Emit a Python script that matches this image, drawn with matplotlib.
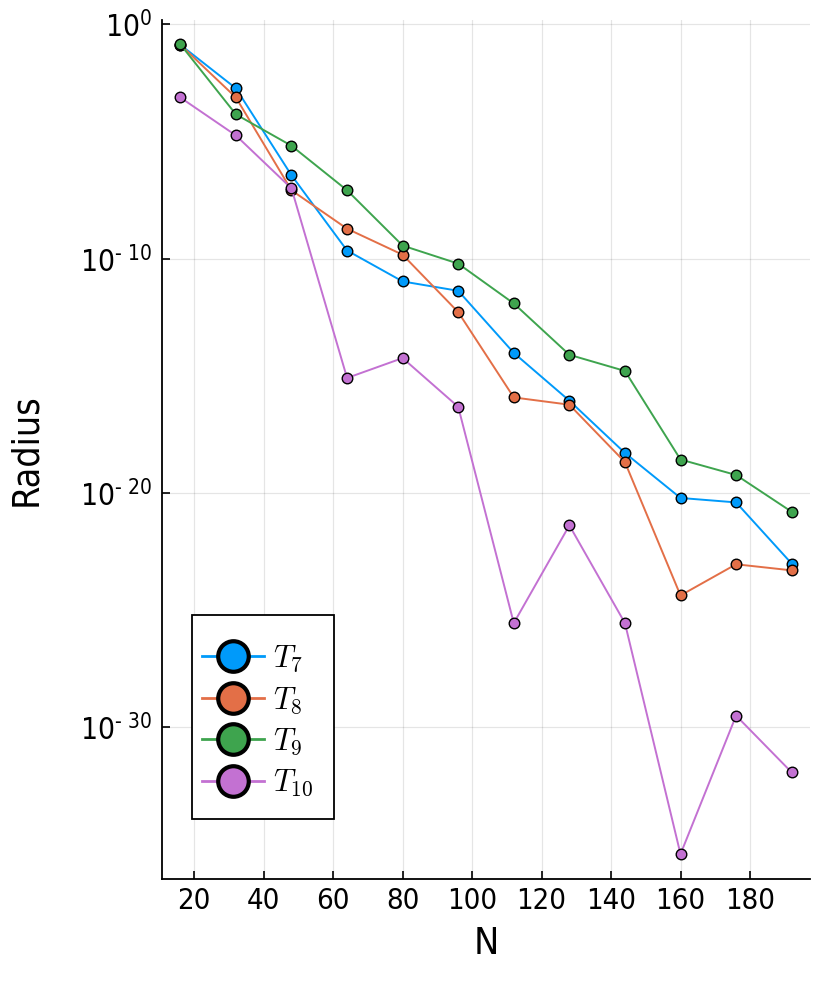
import numpy as np
import matplotlib
matplotlib.use("Agg")
import matplotlib.pyplot as plt
from matplotlib.lines import Line2D
from matplotlib.patches import Rectangle

# N values and log10(radius)
n_vals = [16, 32, 48, 64, 80, 96, 112, 128, 144, 160, 176, 192]
t7_log10 = [-0.87, -2.73, -6.44, -9.65, -10.97, -11.37, -14.02, -16.06, -18.29, -20.21, -20.40, -23.01]
t8_log10 = [-0.87, -3.12, -7.08, -8.72, -9.83, -12.28, -15.92, -16.23, -18.68, -24.37, -23.04, -23.30]
t9_log10 = [-0.85, -3.84, -5.18, -7.08, -9.44, -10.21, -11.91, -14.10, -14.79, -18.57, -19.23, -20.80]
t10_log10 = [-3.12, -4.74, -7.00, -15.09, -14.24, -16.32, -25.55, -21.38, -25.55, -35.41, -29.50, -31.92]

labels = [r"$T_{7}$", r"$T_{8}$", r"$T_{9}$", r"$T_{10}$"]
colors = ["#009AFA", "#E36F47", "#3EA44E", "#C371D2"]
series = [t7_log10, t8_log10, t9_log10, t10_log10]

ytick_exp = [0, -10, -20, -30]
xtick_vals = [20, 40, 60, 80, 100, 120, 140, 160, 180]

plt.rcParams["font.family"] = "DejaVu Sans"
plt.rcParams["font.stretch"] = "condensed"
plt.rcParams["mathtext.fontset"] = "cm"

W, H = 830, 997
fig = plt.figure(figsize=(W / 100, H / 100), dpi=100)
ax = fig.add_axes([162 / W, 1 - 878.5 / H, 648 / W, 858 / H])

for vals, col in zip(series, colors):
    ax.plot(n_vals, 10.0 ** np.array(vals), color=col, lw=1.4, marker="o",
            markersize=7.6, markerfacecolor=col, markeredgecolor="black",
            markeredgewidth=1.0)

ax.set_yscale("log")
ax.set_xlim(10.72, 197.28)
ax.set_ylim(10 ** -36.45, 10 ** 0.166)

ax.set_xticks(xtick_vals)
ax.set_xticklabels([str(v) for v in xtick_vals])
ax.set_yticks([10.0 ** e for e in ytick_exp])
ytl = []
for e in ytick_exp:
    if e == 0:
        ytl.append(r"$\mathregular{10^{0}}$")
    else:
        ytl.append(r"$\mathregular{10^{" + "\u2010" + r"\ " + str(-e) + "}}$")
ax.set_yticklabels(ytl)
ax.yaxis.set_minor_locator(matplotlib.ticker.NullLocator())

ax.tick_params(axis="both", which="major", direction="in", length=6, width=1.2,
               labelsize=21, pad=6)
ax.tick_params(axis="y", labelsize=21.5, pad=7)
ax.grid(True, color="black", alpha=0.1, lw=0.9)
ax.set_axisbelow(True)

for side in ["top", "right"]:
    ax.spines[side].set_visible(False)
for side in ["left", "bottom"]:
    ax.spines[side].set_linewidth(1.3)

ax.set_xlabel("N", fontsize=27, labelpad=8)
ax.set_ylabel("Radius", fontsize=27, labelpad=26)

# legend frame (box) drawn separately, entries placed inside
def ax_x(px):
    return (px - 162) / 648

def ax_y(py):
    return (878.5 - py) / 858

box = Rectangle((ax_x(192.3), ax_y(819)), ax_x(334) - ax_x(192.3), ax_y(615) - ax_y(819),
                transform=ax.transAxes, facecolor="white", edgecolor="black",
                lw=1.3, zorder=4)
ax.add_patch(box)

handles = [Line2D([0], [0], color=c, lw=2.0, marker="o", markersize=22,
                  markerfacecolor=c, markeredgecolor="black", markeredgewidth=3.0)
           for c in colors]
leg = ax.legend(handles, labels, loc="center left",
                bbox_to_anchor=(ax_x(201.7), ax_y(721)),
                borderaxespad=0, borderpad=0, fontsize=22, handlelength=2.05,
                handletextpad=0.28, labelspacing=0.36, frameon=False)
leg.set_zorder(5)

fig.savefig("out.png", dpi=100)
